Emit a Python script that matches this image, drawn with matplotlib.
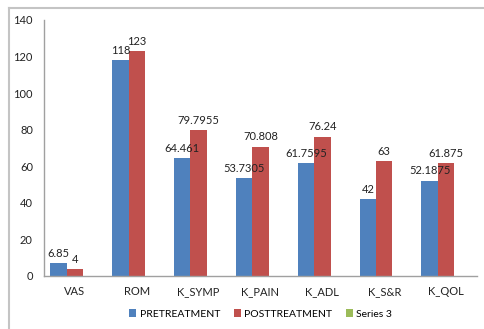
import numpy as np
import matplotlib.pyplot as plt
from matplotlib.lines import Line2D

# chart data
categories = ['VAS', 'ROM', 'K_SYMP', 'K_PAIN', 'K_ADL', 'K_S&R', 'K_QOL']
pre = [6.85, 118, 64.461, 53.7305, 61.7595, 42, 52.1875]
post = [4, 123, 79.7955, 70.808, 76.24, 63, 61.875]
pre_labels = ['6.85', '118', '64.461', '53.7305', '61.7595', '42', '52.1875']
post_labels = ['4', '123', '79.7955', '70.808', '76.24', '63', '61.875']
yticks = [0, 20, 40, 60, 80, 100, 120, 140]

plt.rcParams['font.family'] = ['Lato', 'DejaVu Sans']

fig = plt.figure(figsize=(4.84, 3.29), dpi=100)

# outer chart frame: only top and left edges fall inside the picture
fx, fy = 8.5 / 484, 1 - 7.5 / 329
fig.add_artist(Line2D([fx, 1.0], [fy, fy], transform=fig.transFigure,
                      color='#c4c4c4', linewidth=1.5))
fig.add_artist(Line2D([fx, fx], [0.0, fy], transform=fig.transFigure,
                      color='#c4c4c4', linewidth=1.5))

ax = fig.add_axes([44 / 484, 1 - 276 / 329, (477 - 44) / 484, (276 - 20) / 329])

x = np.arange(len(categories))
w = 0.266
ax.bar(x - w, pre, w, color='#4F81BD', label='PRETREATMENT')
ax.bar(x, post, w, color='#C0504D', label='POSTTREATMENT')
ax.bar(x + w, [0] * len(categories), w, color='#9BBB59', label='Series 3')

for xi, v, t in zip(x - w, pre, pre_labels):
    ax.annotate(t, (xi, v), xytext=(0, 3), textcoords='offset points',
                ha='center', va='bottom', fontsize=8, color='#222222')
for xi, v, t in zip(x, post, post_labels):
    ax.annotate(t, (xi, v), xytext=(0, 3), textcoords='offset points',
                ha='center', va='bottom', fontsize=8, color='#222222')

ax.set_xlim(-0.5, len(categories) - 0.5)
ax.set_ylim(0, 140)
ax.set_yticks(yticks)
ax.set_xticks(x)
ax.set_xticklabels(categories)
ax.tick_params(length=0, labelsize=8, colors='#222222')
ax.tick_params(axis='y', pad=8)
ax.tick_params(axis='x', pad=7)

for s in ['top', 'right']:
    ax.spines[s].set_visible(False)
for s in ['left', 'bottom']:
    ax.spines[s].set_color('#a0a0a0')
    ax.spines[s].set_linewidth(1)

ax.legend(loc='center', bbox_to_anchor=(0.5, -0.148), ncol=3, frameon=False,
          fontsize=7.5, handlelength=0.7, handleheight=0.7, handletextpad=0.3,
          columnspacing=1.3)

fig.savefig('out.png', dpi=100)
